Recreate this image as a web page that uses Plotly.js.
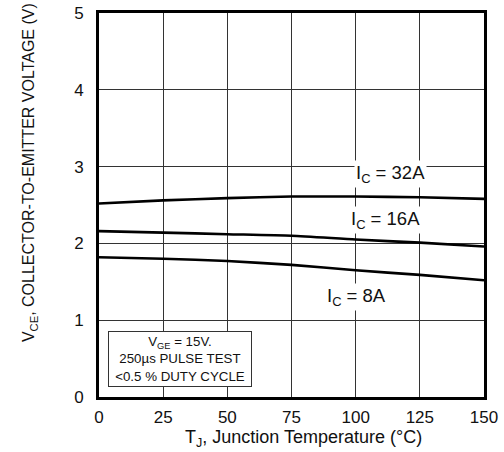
<!DOCTYPE html>
<html>
<head>
<meta charset="utf-8">
<script src="https://cdn.plot.ly/plotly-3.0.1.min.js"></script>
<style>html,body{margin:0;padding:0;background:#fff;}#chart{width:504px;height:452px;}</style>
</head>
<body>
<div id="chart"></div>
<script>
// Junction temperature (°C)
const tempC = [0, 25, 50, 75, 100, 125, 150];
// V_CE (V) for each collector current
const vce32A = [2.52, 2.56, 2.59, 2.61, 2.61, 2.60, 2.58];
const vce16A = [2.16, 2.14, 2.12, 2.10, 2.05, 2.01, 1.96];
const vce8A  = [1.82, 1.80, 1.77, 1.72, 1.65, 1.59, 1.52];
const xTicks = [0, 25, 50, 75, 100, 125, 150];
const yTicks = [0, 1, 2, 3, 4, 5];
const seriesLabels = ['I<sub>C</sub> = 32A', 'I<sub>C</sub> = 16A', 'I<sub>C</sub> = 8A'];

const FONT = 'Liberation Sans, Arial, sans-serif';
const lineStyle = {color: '#000', width: 2.6, shape: 'spline', smoothing: 0.6};

const traces = [
  {x: tempC, y: vce32A, mode: 'lines', line: lineStyle, hoverinfo: 'skip'},
  {x: tempC, y: vce16A, mode: 'lines', line: lineStyle, hoverinfo: 'skip'},
  {x: tempC, y: vce8A,  mode: 'lines', line: lineStyle, hoverinfo: 'skip'}
];

const layout = {
  width: 504, height: 452,
  margin: {l: 99, r: 20, t: 13, b: 55},
  paper_bgcolor: '#fff', plot_bgcolor: '#fff',
  showlegend: false,
  font: {family: FONT, size: 16, color: '#111'},
  xaxis: {
    range: [0, 150], tickvals: xTicks, ticktext: xTicks.map(String),
    showgrid: true, gridcolor: '#333', gridwidth: 1,
    zeroline: false, showline: true, linecolor: '#000', linewidth: 3, mirror: true,
    ticks: '', ticklabelstandoff: 3, tickfont: {family: FONT, size: 17, color: '#111'},
    fixedrange: true
  },
  yaxis: {
    range: [0, 5], tickvals: yTicks, ticktext: yTicks.map(String),
    showgrid: true, gridcolor: '#333', gridwidth: 1,
    zeroline: false, showline: true, linecolor: '#000', linewidth: 3, mirror: true,
    ticks: '', ticklabelstandoff: 9, tickfont: {family: FONT, size: 17, color: '#111'},
    fixedrange: true
  },
  annotations: [
    {x: 113.5, y: 2.90, xref: 'x', yref: 'y', text: seriesLabels[0], showarrow: false,
     font: {family: FONT, size: 18.5, color: '#111'}, bgcolor: '#fff', borderpad: 1},
    {x: 111.5, y: 2.31, xref: 'x', yref: 'y', text: seriesLabels[1], showarrow: false,
     font: {family: FONT, size: 18.5, color: '#111'}, bgcolor: '#fff', borderpad: 1},
    {x: 100.5, y: 1.30, xref: 'x', yref: 'y', text: seriesLabels[2], showarrow: false,
     font: {family: FONT, size: 18.5, color: '#111'}, bgcolor: '#fff', borderpad: 1},
    {x: 31.4, y: 0.50, xref: 'x', yref: 'y', showarrow: false,
     text: 'V<sub>GE</sub> = 15V.<br>250µs PULSE TEST<br>&lt;0.5 % DUTY CYCLE',
     font: {family: FONT, size: 13.3, color: '#111'}, align: 'center',
     bgcolor: '#fff', bordercolor: '#333', borderwidth: 1, borderpad: 2, width: 138},
    {x: 303, y: 426, xref: 'paper', yref: 'paper', showarrow: false,
     text: 'T<sub>J</sub>, Junction Temperature (°C)', borderpad: 0,
     font: {family: FONT, size: 18, color: '#111'}, xanchor: 'center', yanchor: 'top'},
    {x: -0.18, y: 0.585, xref: 'paper', yref: 'paper', showarrow: false, textangle: -90,
     text: 'V<sub>CE</sub>, COLLECTOR-TO-EMITTER VOLTAGE (V)',
     font: {family: FONT, size: 16, color: '#111'}, xanchor: 'center', yanchor: 'middle'}
  ]
};
// convert x-title pixel position to paper coordinates
const plotW = 504 - 99 - 20, plotH = 452 - 13 - 55;
const xt = layout.annotations[4];
xt.x = (xt.x - 99) / plotW;
xt.y = (452 - 55 - xt.y) / plotH;

Plotly.newPlot('chart', traces, layout, {displayModeBar: false, staticPlot: true});
</script>
</body>
</html>
